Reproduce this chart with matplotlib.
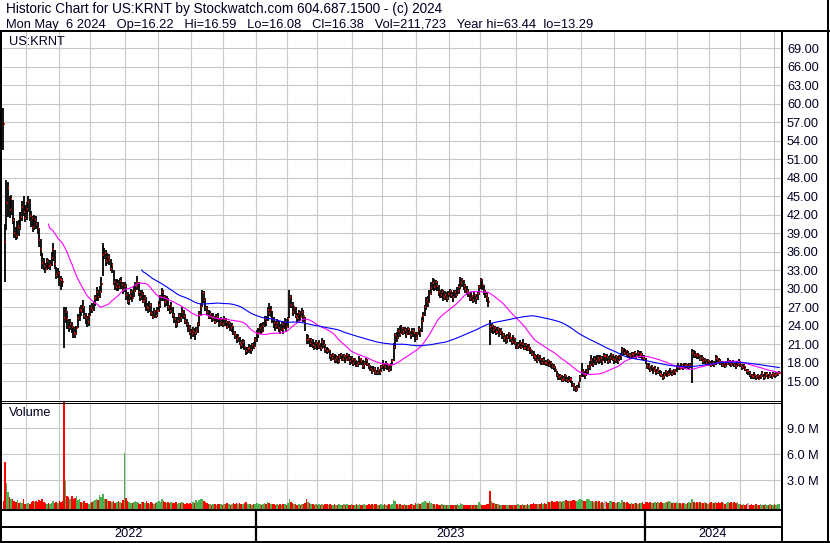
import numpy as np
import pandas as pd
import matplotlib
matplotlib.use("Agg")
import matplotlib.pyplot as plt

plt.rcParams["font.family"] = ["Liberation Sans", "DejaVu Sans"]

# US:KRNT daily bars, May 2022 - May 6 2024
close = [
    56.7, 37.6, 43.9, 46.4, 42.7, 44.5, 41.1, 39.0, 38.5, 40.2,
    39.8, 41.6, 43.2, 42.5, 41.4, 43.0, 44.0, 41.8, 41.4, 40.0,
    41.2, 40.5, 39.8, 37.9, 36.4, 34.2, 33.6, 33.2, 34.5, 33.6,
    33.8, 35.0, 36.5, 34.0, 32.2, 32.6, 31.5, 31.4, 31.0, 25.2,
    26.2, 25.0, 23.8, 24.2, 23.8, 22.8, 22.6, 23.6, 25.2, 26.5,
    26.4, 27.0, 25.6, 25.2, 24.5, 25.5, 26.8, 26.5, 27.6, 28.4,
    29.4, 28.6, 29.5, 30.8, 35.4, 35.8, 34.4, 35.2, 34.6, 33.2,
    33.8, 31.0, 30.3, 30.8, 30.2, 31.2, 30.6, 29.8, 30.5, 29.0,
    28.0, 28.8, 29.5, 28.4, 29.6, 30.4, 31.0, 29.4, 28.6, 29.2,
    28.0, 28.4, 27.0, 26.8, 27.4, 26.0, 25.4, 26.2, 25.6, 26.4,
    27.4, 28.6, 29.4, 28.6, 27.8, 28.2, 27.0, 26.4, 27.2, 25.7,
    25.0, 24.2, 24.8, 25.6, 25.2, 26.2, 25.5, 24.8, 24.3, 23.6,
    23.0, 22.6, 23.2, 22.8, 23.2, 24.2, 25.8, 27.0, 29.3, 28.2,
    26.8, 26.2, 25.4, 25.8, 25.2, 25.4, 24.6, 25.4, 25.0, 24.4,
    25.0, 24.2, 25.0, 24.6, 23.8, 24.4, 23.6, 24.0, 22.8, 22.4,
    21.8, 22.2, 21.2, 20.8, 21.4, 20.5, 19.8, 20.2, 20.4, 20.0,
    20.9, 20.6, 21.6, 22.6, 22.8, 23.6, 23.0, 24.0, 25.0, 24.6,
    26.5, 26.0, 26.6, 25.0, 24.4, 24.0, 24.4, 23.6, 23.2, 24.2,
    23.4, 24.6, 23.8, 25.0, 28.6, 27.4, 26.2, 26.8, 25.6, 25.2,
    26.0, 25.4, 26.2, 25.6, 24.6, 21.6, 21.8, 21.2, 21.6, 20.8,
    20.6, 21.2, 20.5, 21.0, 20.4, 21.4, 20.9, 20.2, 19.8, 20.0,
    19.0, 18.7, 19.2, 18.4, 18.8, 18.2, 18.9, 19.3, 18.6, 19.0,
    18.4, 19.2, 18.8, 18.2, 18.6, 17.9, 18.4, 17.6, 17.9, 18.6,
    18.2, 17.4, 17.8, 18.4, 17.8, 17.4, 17.0, 16.6, 17.0, 16.4,
    16.3, 16.8, 16.4, 17.2, 17.6, 17.2, 17.8, 17.4, 16.8, 17.6,
    18.2, 20.6, 22.4, 22.0, 23.2, 22.6, 23.6, 23.0, 23.3, 22.6,
    23.4, 23.0, 22.4, 23.2, 22.8, 22.0, 22.6, 23.4, 22.8, 24.8,
    25.6, 27.0, 28.1, 27.6, 29.2, 30.1, 30.9, 30.2, 31.0, 30.4,
    29.4, 29.0, 29.4, 28.6, 29.0, 28.4, 29.2, 29.6, 29.0, 28.6,
    29.4, 29.0, 29.6, 30.2, 30.9, 31.4, 30.4, 30.0, 29.6, 29.2,
    28.5, 28.8, 28.2, 29.0, 28.4, 29.2, 30.2, 31.4, 30.6, 29.6,
    29.0, 28.4, 27.8, 23.8, 24.0, 23.3, 23.6, 23.0, 23.4, 22.8,
    23.2, 22.4, 22.0, 21.6, 22.2, 22.6, 22.0, 21.4, 22.0, 21.2,
    20.6, 20.9, 21.2, 20.6, 21.0, 20.4, 20.8, 20.2, 20.5, 20.0,
    19.4, 19.0, 18.9, 18.4, 19.0, 18.6, 17.9, 18.4, 18.0, 17.9,
    18.2, 17.6, 17.9, 17.4, 17.2, 16.8, 16.0, 15.6, 15.8, 15.2,
    15.4, 15.8, 15.2, 15.0, 15.4, 15.1, 14.4, 13.9, 13.6, 14.0,
    14.6, 15.6, 16.6, 16.2, 16.0, 16.6, 17.2, 17.6, 18.4, 17.8,
    18.6, 18.2, 18.8, 18.4, 18.7, 18.2, 19.0, 19.0, 18.9, 18.3,
    18.8, 19.2, 18.6, 18.4, 18.9, 18.3, 18.8, 19.0, 20.0, 19.6,
    19.8, 19.4, 19.3, 19.0, 19.4, 19.2, 19.5, 19.0, 19.6, 19.2,
    19.4, 18.8, 18.6, 18.2, 17.4, 17.2, 16.8, 17.2, 16.6, 16.9,
    16.4, 16.8, 16.2, 16.0, 15.6, 16.0, 16.4, 16.0, 16.2, 16.6,
    16.2, 16.8, 16.4, 17.2, 17.4, 17.0, 17.6, 17.2, 17.4, 17.6,
    17.3, 17.6, 17.5, 19.6, 19.2, 19.4, 19.0, 19.2, 18.6, 18.8,
    18.2, 18.4, 18.0, 18.2, 17.8, 17.6, 18.0, 17.6, 18.8, 18.6,
    18.2, 18.0, 17.6, 17.9, 17.4, 17.8, 18.2, 17.9, 17.6, 18.0,
    17.6, 17.4, 17.8, 18.0, 17.6, 17.2, 17.4, 16.9, 16.6, 16.6,
    16.0, 15.8, 15.6, 16.0, 15.6, 15.8, 15.4, 15.8, 16.2, 15.6,
    15.9, 16.1, 15.7, 16.0, 15.8, 16.2, 15.9, 16.1, 16.2, 16.38,
]

high = [
    59.3, 40.5, 47.6, 47.3, 45.0, 45.2, 44.4, 41.5, 40.0, 41.0,
    41.2, 42.5, 44.2, 45.0, 43.5, 44.0, 45.0, 44.5, 42.6, 41.8,
    42.0, 41.8, 40.8, 39.9, 38.0, 35.8, 35.0, 34.2, 35.0, 34.8,
    34.6, 36.0, 37.4, 36.3, 33.5, 33.4, 32.8, 32.0, 31.8, 27.0,
    27.0, 26.4, 25.0, 25.0, 24.6, 24.0, 23.8, 24.0, 25.8, 27.0,
    27.4, 28.1, 27.2, 26.0, 25.6, 26.0, 27.3, 27.6, 28.0, 29.0,
    30.2, 29.8, 30.5, 31.9, 37.4, 36.6, 36.2, 35.8, 35.6, 34.8,
    34.2, 33.0, 31.6, 31.6, 31.4, 31.8, 31.9, 31.0, 31.0, 30.8,
    29.4, 29.2, 30.0, 29.8, 30.4, 31.0, 32.0, 31.0, 29.8, 29.8,
    29.4, 29.0, 28.6, 27.6, 28.0, 27.6, 26.4, 26.8, 26.6, 27.0,
    28.0, 29.0, 30.1, 29.8, 29.0, 28.8, 28.4, 27.4, 27.8, 27.0,
    26.0, 25.4, 25.4, 26.0, 26.0, 27.0, 26.6, 25.8, 25.0, 24.6,
    24.1, 23.4, 23.8, 23.6, 23.8, 24.6, 26.4, 27.6, 29.8, 29.6,
    28.4, 27.2, 26.6, 26.4, 26.0, 26.0, 25.6, 25.8, 26.0, 25.2,
    25.4, 25.0, 25.6, 25.2, 24.8, 24.8, 24.6, 24.4, 24.0, 23.2,
    22.6, 22.6, 22.2, 21.6, 21.8, 21.6, 20.6, 20.6, 21.0, 20.8,
    21.2, 21.4, 22.2, 23.3, 23.6, 24.2, 24.4, 24.6, 25.6, 25.6,
    27.0, 27.6, 27.2, 26.4, 25.4, 24.8, 25.0, 24.8, 24.2, 24.6,
    24.6, 25.2, 25.0, 25.4, 29.8, 29.0, 27.8, 27.2, 27.0, 26.0,
    26.6, 26.4, 26.8, 26.6, 25.4, 22.6, 22.4, 22.0, 22.0, 21.8,
    21.4, 21.6, 21.4, 21.6, 21.2, 22.0, 21.6, 21.0, 20.6, 20.4,
    20.0, 19.4, 19.5, 19.4, 19.2, 19.0, 19.4, 19.6, 19.4, 19.4,
    19.2, 19.6, 19.4, 19.0, 19.0, 18.7, 18.8, 18.4, 18.3, 19.0,
    18.8, 18.4, 18.2, 18.8, 18.6, 18.0, 17.6, 17.4, 17.4, 17.2,
    16.8, 17.2, 17.0, 17.6, 18.4, 17.8, 18.2, 18.0, 17.6, 18.0,
    18.6, 21.2, 22.8, 23.0, 23.6, 24.0, 24.1, 23.8, 23.8, 23.6,
    23.8, 23.6, 23.2, 23.6, 23.6, 23.0, 23.0, 24.0, 23.6, 25.4,
    26.2, 27.4, 28.6, 28.8, 29.8, 31.0, 31.7, 31.6, 31.4, 31.2,
    30.6, 29.8, 30.0, 29.8, 29.6, 29.4, 29.6, 30.0, 29.8, 29.4,
    29.8, 29.8, 30.2, 30.8, 31.9, 31.8, 31.4, 30.8, 30.4, 30.0,
    29.5, 29.4, 29.0, 29.4, 29.2, 29.6, 30.6, 31.7, 31.6, 30.6,
    29.8, 29.4, 28.6, 24.9, 24.4, 24.1, 24.0, 23.8, 23.8, 23.6,
    23.6, 23.2, 22.8, 22.4, 22.6, 23.0, 22.8, 22.2, 22.4, 22.0,
    21.4, 21.4, 21.6, 21.4, 21.8, 21.2, 21.2, 21.0, 21.0, 20.6,
    20.0, 19.8, 19.4, 19.2, 19.4, 19.2, 18.8, 18.8, 18.9, 18.4,
    18.6, 18.4, 18.2, 18.0, 17.8, 17.4, 16.6, 16.3, 16.2, 16.0,
    15.8, 16.2, 15.9, 15.6, 15.8, 15.6, 15.0, 14.6, 14.2, 14.4,
    14.8, 16.0, 17.9, 17.0, 16.6, 17.0, 17.6, 18.2, 19.2, 18.8,
    19.0, 19.0, 19.2, 19.2, 19.2, 19.0, 19.5, 19.4, 19.4, 19.0,
    19.2, 19.5, 19.4, 19.0, 19.3, 19.0, 19.2, 19.6, 20.5, 20.4,
    20.2, 20.0, 19.8, 19.6, 19.7, 19.7, 19.8, 19.6, 20.0, 19.8,
    19.8, 19.6, 19.2, 18.8, 18.0, 17.9, 17.4, 17.6, 17.2, 17.4,
    17.0, 17.2, 16.8, 16.6, 16.2, 16.4, 16.8, 16.6, 16.8, 17.1,
    16.8, 17.0, 17.0, 17.6, 17.9, 17.6, 17.9, 17.8, 17.9, 17.9,
    17.8, 18.0, 18.0, 20.2, 20.0, 19.8, 19.6, 19.6, 19.2, 19.2,
    18.9, 18.8, 18.6, 18.6, 18.4, 18.2, 18.4, 18.2, 19.2, 19.0,
    18.8, 18.6, 18.2, 18.2, 18.0, 18.2, 18.7, 18.4, 18.2, 18.4,
    18.0, 18.0, 18.2, 18.6, 18.2, 17.8, 17.8, 17.5, 17.0, 16.9,
    16.6, 16.2, 16.2, 16.4, 16.0, 16.2, 16.0, 16.2, 16.6, 16.2,
    16.4, 16.5, 16.2, 16.4, 16.2, 16.5, 16.3, 16.5, 16.4, 16.59,
]

low = [
    52.5, 31.0, 39.5, 41.7, 41.5, 42.0, 40.5, 38.2, 37.9, 38.0,
    38.6, 39.5, 41.0, 41.8, 40.8, 41.2, 42.5, 41.0, 40.0, 39.2,
    39.5, 39.6, 38.8, 36.7, 35.3, 33.2, 33.0, 32.6, 33.0, 33.2,
    33.0, 33.6, 34.5, 33.2, 31.5, 31.8, 30.5, 29.8, 30.2, 20.4,
    24.4, 23.5, 23.0, 23.3, 22.8, 22.0, 22.0, 22.5, 23.6, 24.8,
    25.6, 26.0, 25.0, 24.2, 23.8, 24.0, 25.5, 26.0, 26.4, 27.2,
    28.0, 28.0, 28.4, 29.3, 32.0, 34.8, 33.6, 34.0, 33.8, 32.8,
    32.6, 30.6, 29.8, 29.6, 29.6, 30.0, 30.0, 29.2, 29.5, 28.2,
    27.5, 27.4, 28.2, 27.8, 28.6, 29.4, 29.8, 28.8, 28.0, 28.2,
    27.6, 27.0, 26.4, 26.0, 26.2, 25.6, 25.0, 25.2, 25.2, 25.4,
    26.2, 26.8, 28.0, 28.0, 27.0, 27.2, 26.4, 25.8, 26.0, 25.2,
    24.4, 23.6, 23.8, 24.4, 24.6, 25.0, 25.0, 24.2, 23.8, 23.0,
    22.4, 21.8, 22.2, 21.6, 22.4, 22.8, 24.0, 25.6, 27.0, 27.6,
    26.4, 25.7, 25.0, 25.0, 24.6, 24.8, 24.2, 24.4, 24.6, 23.8,
    24.0, 23.8, 24.0, 24.0, 23.4, 23.6, 23.2, 23.0, 22.4, 21.8,
    21.2, 21.4, 20.8, 20.2, 20.4, 20.0, 19.2, 19.4, 19.6, 19.4,
    19.8, 20.2, 20.6, 21.4, 22.0, 22.6, 22.6, 23.0, 23.8, 24.0,
    24.8, 25.6, 25.4, 24.4, 23.6, 23.2, 23.4, 23.0, 22.6, 23.2,
    22.6, 23.4, 23.0, 23.6, 25.2, 26.8, 25.6, 25.8, 25.2, 24.6,
    24.8, 24.8, 25.2, 24.6, 23.2, 21.0, 21.0, 20.6, 20.6, 20.4,
    20.0, 20.2, 20.0, 20.2, 19.8, 20.2, 20.4, 19.6, 19.4, 19.5,
    18.6, 18.2, 18.4, 18.0, 18.0, 17.8, 18.0, 18.6, 18.2, 18.2,
    18.0, 18.2, 18.2, 17.6, 17.8, 17.4, 17.6, 17.2, 17.3, 17.6,
    17.6, 17.0, 17.0, 17.6, 17.4, 16.9, 16.6, 16.2, 16.4, 16.0,
    15.9, 16.0, 16.0, 16.4, 17.0, 16.6, 17.0, 16.8, 16.4, 16.6,
    17.6, 18.2, 20.2, 21.4, 21.8, 22.2, 22.6, 22.4, 22.6, 22.0,
    22.4, 22.4, 21.8, 22.2, 22.2, 21.4, 21.6, 22.4, 22.2, 23.0,
    24.6, 25.6, 26.6, 27.0, 27.6, 29.0, 29.8, 29.6, 29.8, 29.6,
    28.8, 28.4, 28.4, 28.0, 28.2, 27.8, 28.2, 28.6, 28.4, 27.8,
    28.4, 28.4, 28.8, 29.2, 30.0, 30.2, 29.8, 29.3, 29.0, 28.6,
    28.0, 28.0, 27.6, 27.8, 27.5, 28.2, 29.0, 30.0, 29.8, 29.0,
    28.4, 27.8, 27.0, 20.8, 22.8, 22.6, 22.8, 22.4, 22.6, 22.2,
    22.4, 21.8, 21.4, 21.0, 21.2, 21.8, 21.4, 20.8, 21.0, 20.8,
    20.2, 20.2, 20.4, 20.2, 20.4, 20.0, 20.0, 19.8, 19.8, 19.4,
    19.0, 18.6, 18.2, 18.0, 18.2, 18.0, 17.6, 17.6, 17.6, 17.4,
    17.4, 17.2, 17.1, 17.0, 16.8, 16.4, 15.6, 15.2, 15.2, 14.9,
    14.8, 15.0, 14.8, 14.7, 14.8, 14.7, 14.0, 13.4, 13.2, 13.3,
    13.8, 14.8, 15.6, 15.6, 15.4, 15.8, 16.2, 16.8, 17.4, 17.2,
    17.6, 17.6, 18.0, 17.8, 18.0, 17.6, 18.2, 18.0, 18.2, 17.8,
    18.0, 18.4, 18.2, 17.8, 18.0, 17.8, 18.2, 18.4, 19.0, 19.2,
    19.2, 18.9, 18.8, 18.6, 18.8, 18.6, 18.8, 18.6, 19.0, 18.8,
    18.8, 18.4, 18.2, 17.8, 17.0, 16.8, 16.4, 16.6, 16.2, 16.4,
    16.0, 16.2, 15.8, 15.6, 15.2, 15.4, 15.8, 15.6, 15.8, 16.0,
    15.8, 16.0, 16.0, 16.4, 16.8, 16.8, 17.0, 16.8, 17.0, 17.0,
    16.9, 17.0, 17.1, 14.7, 18.8, 18.8, 18.6, 18.6, 18.2, 18.2,
    17.8, 17.8, 17.6, 17.6, 17.4, 17.2, 17.4, 17.2, 17.6, 18.0,
    17.8, 17.6, 17.2, 17.2, 17.1, 17.2, 17.6, 17.4, 17.2, 17.4,
    17.2, 17.0, 17.2, 17.4, 17.2, 16.8, 16.9, 16.6, 16.2, 16.0,
    15.6, 15.4, 15.3, 15.4, 15.2, 15.4, 15.2, 15.3, 15.6, 15.2,
    15.4, 15.6, 15.4, 15.5, 15.4, 15.6, 15.5, 15.7, 15.8, 16.08,
]

# volume in millions of shares
volume = [
    0.6, 5.1, 2.7, 1.6, 1.1, 0.8, 0.9, 0.6, 0.5, 0.7,
    0.4, 0.5, 0.4, 0.8, 0.3, 0.3, 0.4, 0.3, 0.5, 0.6,
    0.5, 0.6, 0.5, 0.7, 0.6, 0.9, 0.5, 0.4, 0.3, 0.4,
    0.3, 0.4, 0.6, 0.4, 0.5, 0.4, 0.6, 0.5, 0.6, 14.0,
    2.9, 1.2, 1.1, 0.9, 1.2, 0.8, 1.0, 1.2, 0.7, 0.9,
    0.5, 0.4, 0.6, 0.4, 0.4, 0.3, 0.4, 0.5, 0.6, 0.7,
    0.8, 0.7, 1.3, 1.1, 1.4, 0.9, 0.8, 0.7, 0.6, 0.6,
    0.5, 0.6, 0.4, 0.5, 0.6, 0.5, 0.4, 0.7, 6.2, 1.0,
    0.6, 0.5, 0.4, 0.4, 0.5, 0.6, 0.5, 0.4, 0.3, 0.5,
    0.5, 0.4, 0.6, 0.4, 0.3, 0.5, 0.4, 0.3, 0.4, 0.5,
    0.6, 0.5, 0.8, 0.6, 0.5, 0.4, 0.5, 0.4, 0.5, 0.4,
    0.4, 0.5, 0.3, 0.4, 0.4, 0.5, 0.4, 0.3, 0.4, 0.3,
    0.4, 0.3, 0.5, 0.4, 0.7, 0.5, 0.7, 0.8, 0.9, 0.6,
    0.5, 0.4, 0.3, 0.3, 0.2, 0.3, 0.3, 0.2, 0.3, 0.3,
    0.3, 0.2, 0.3, 0.3, 0.4, 0.3, 0.2, 0.3, 0.4, 0.3,
    0.4, 0.3, 0.4, 0.3, 0.3, 0.4, 0.5, 0.3, 0.3, 0.3,
    0.2, 0.3, 0.3, 0.4, 0.3, 0.3, 0.2, 0.3, 0.4, 0.3,
    0.5, 0.4, 0.3, 0.3, 0.3, 0.2, 0.3, 0.2, 0.3, 0.2,
    0.3, 0.3, 0.2, 0.4, 0.8, 0.5, 0.4, 0.3, 0.3, 0.2,
    0.3, 0.2, 0.3, 0.3, 0.4, 0.9, 0.5, 0.4, 0.3, 0.3,
    0.2, 0.3, 0.2, 0.3, 0.2, 0.3, 0.2, 0.3, 0.3, 0.2,
    0.3, 0.2, 0.2, 0.3, 0.2, 0.2, 0.3, 0.2, 0.2, 0.3,
    0.2, 0.3, 0.2, 0.2, 0.3, 0.2, 0.2, 0.3, 0.2, 0.3,
    0.2, 0.2, 0.3, 0.2, 0.2, 0.3, 0.2, 0.3, 0.2, 0.3,
    0.3, 0.2, 0.2, 0.3, 0.2, 0.3, 0.2, 0.2, 0.3, 0.2,
    0.3, 0.7, 0.6, 0.3, 0.2, 0.3, 0.2, 0.2, 0.3, 0.2,
    0.2, 0.2, 0.3, 0.3, 0.2, 0.4, 0.3, 0.4, 0.3, 0.4,
    0.5, 0.6, 0.5, 0.4, 0.6, 0.4, 0.3, 0.3, 0.2, 0.3,
    0.2, 0.2, 0.3, 0.2, 0.2, 0.1, 0.2, 0.2, 0.1, 0.2,
    0.2, 0.2, 0.3, 0.2, 0.4, 0.3, 0.2, 0.2, 0.2, 0.2,
    0.2, 0.2, 0.1, 0.2, 0.2, 0.2, 0.5, 0.3, 0.2, 0.2,
    0.2, 0.3, 0.3, 1.8, 0.6, 0.4, 0.4, 0.3, 0.3, 0.2,
    0.2, 0.1, 0.1, 0.2, 0.1, 0.1, 0.2, 0.1, 0.1, 0.2,
    0.2, 0.3, 0.2, 0.2, 0.3, 0.2, 0.2, 0.3, 0.2, 0.3,
    0.3, 0.4, 0.3, 0.3, 0.3, 0.3, 0.4, 0.3, 0.4, 0.3,
    0.6, 0.5, 0.5, 0.6, 0.5, 0.5, 0.6, 0.5, 0.6, 0.5,
    0.6, 0.6, 0.7, 0.6, 0.6, 0.6, 0.7, 0.7, 0.6, 0.6,
    0.7, 0.8, 0.7, 0.6, 0.6, 0.8, 0.9, 0.7, 0.6, 0.6,
    0.5, 0.6, 0.5, 0.6, 0.4, 0.5, 0.4, 0.6, 0.5, 0.4,
    0.6, 0.6, 0.5, 0.5, 0.4, 0.5, 0.5, 0.4, 0.7, 0.5,
    0.4, 0.5, 0.4, 0.3, 0.4, 0.3, 0.4, 0.4, 0.3, 0.4,
    0.4, 0.5, 0.3, 0.5, 0.5, 0.4, 0.5, 0.4, 0.4, 0.5,
    0.4, 0.5, 0.4, 0.5, 0.4, 0.4, 0.5, 0.5, 0.6, 0.5,
    0.4, 0.5, 0.4, 0.5, 0.4, 0.4, 0.3, 0.4, 0.4, 0.3,
    0.4, 0.5, 0.4, 0.9, 0.5, 0.4, 0.5, 0.4, 0.5, 0.4,
    0.4, 0.5, 0.4, 0.3, 0.4, 0.5, 0.4, 0.4, 0.5, 0.4,
    0.5, 0.4, 0.5, 0.4, 0.3, 0.4, 0.5, 0.4, 0.5, 0.4,
    0.5, 0.4, 0.5, 0.3, 0.3, 0.2, 0.3, 0.2, 0.3, 0.4,
    0.2, 0.3, 0.2, 0.2, 0.3, 0.2, 0.2, 0.3, 0.2, 0.2,
    0.3, 0.2, 0.2, 0.3, 0.2, 0.2, 0.3, 0.2, 0.3, 0.21,
]

# NYSE holidays in the range, so the bars fall on trading days
holidays = [
    "2022-05-30", "2022-06-20", "2022-07-04", "2022-09-05", "2022-11-24",
    "2022-12-26", "2023-01-02", "2023-01-16", "2023-02-20", "2023-04-07",
    "2023-05-29", "2023-06-19", "2023-07-04", "2023-09-04", "2023-11-23",
    "2023-12-25", "2024-01-01", "2024-01-15", "2024-02-19", "2024-03-29",
]

header1 = "Historic Chart for US:KRNT by Stockwatch.com 604.687.1500 - (c) 2024"
header2 = ("Mon May  6 2024   Op=16.22   Hi=16.59   Lo=16.08   Cl=16.38   "
           "Vol=211,723   Year hi=63.44  lo=13.29")

price_ticks = np.arange(15, 70, 3)
vol_ticks = [3, 6, 9]

n = len(close)
dates = pd.bdate_range(end="2024-05-06", periods=n, freq="C", holidays=holidays)
idx = np.arange(n)
ma_fast = pd.Series(close).rolling(30).mean()
ma_slow = pd.Series(close).rolling(90).mean()

ym = np.asarray(dates.year * 12 + dates.month)
month_pos = np.flatnonzero(np.diff(ym) != 0) + 0.5
yr = np.asarray(dates.year)
year_pos = np.flatnonzero(np.diff(yr) != 0) + 0.5

RED, GREEN, GRAY = "#ff0000", "#4caf50", "#b4b4b4"
GRID = "#c8c8c8"
TXT = "#000022"
FS = 9.2

W, H = 830, 543
fig = plt.figure(figsize=(W / 100, H / 100), dpi=100, facecolor="white")


def box(x0, y0, x1, y1):
    return [x0 / W, 1 - y1 / H, (x1 - x0) / W, (y1 - y0) / H]


xlim = (-0.84, n - 1 + 1.1)

# price panel
ax = fig.add_axes(box(2, 31, 781, 400))
ax.set_xlim(*xlim)
ax.set_ylim(11.92, 71.81)
ax.set_xticks(month_pos)
ax.set_yticks(price_ticks)
ax.set_yticklabels([f"{v:.2f}" for v in price_ticks])
ax.grid(True, color=GRID, lw=0.8)
ax.set_axisbelow(True)
ax.yaxis.tick_right()
ax.tick_params(axis="both", length=0, labelbottom=False)
ax.tick_params(axis="y", pad=4.3, labelsize=FS, labelcolor=TXT)
for s in ax.spines.values():
    s.set_visible(False)

ax.vlines(idx, low, high, colors="black", lw=1.3)
ax.hlines(close, idx + 0.15, idx + 0.8, colors=RED, lw=1.3)
ax.plot(idx, ma_fast, color="#ff00ff", lw=0.8)
ax.plot(idx, ma_slow, color="#0000ff", lw=0.8)

# volume panel
vlo = -0.31
axv = fig.add_axes(box(2, 402, 781, 509))
axv.set_xlim(*xlim)
axv.set_ylim(vlo, 12.03)
axv.set_xticks(month_pos)
axv.set_yticks(vol_ticks)
axv.set_yticklabels([f"{v:.1f} M" for v in vol_ticks])
axv.grid(True, color=GRID, lw=0.8)
axv.set_axisbelow(True)
axv.yaxis.tick_right()
axv.tick_params(axis="both", length=0, labelbottom=False)
axv.tick_params(axis="y", pad=4.3, labelsize=FS, labelcolor=TXT)
for s in axv.spines.values():
    s.set_visible(False)

chg = np.diff(close, prepend=np.nan)
vcol = [GREEN if d > 0 else GRAY if d == 0 else RED for d in chg]
axv.bar(idx, np.array(volume) - vlo, bottom=vlo, width=1.0, color=vcol, lw=0)

# date strip
axd = fig.add_axes(box(2, 509, 781, 541))
axd.set_xlim(*xlim)
axd.set_ylim(32, 0)
axd.axis("off")
axd.vlines(year_pos, 0, 32, colors="black", lw=1.6)
edges = np.concatenate([[xlim[0]], year_pos, [xlim[1]]])
for a, b, y in zip(edges[:-1], edges[1:], yr[np.r_[0, year_pos.astype(int) + 1]]):
    axd.text((a + b) / 2, 25, str(y), ha="center", va="center", fontsize=FS, color=TXT)

# frame lines in pixel coordinates
ov = fig.add_axes([0, 0, 1, 1], zorder=10)
ov.set_xlim(0, W)
ov.set_ylim(H, 0)
ov.axis("off")
ov.patch.set_alpha(0)
frame = [
    ((0, 830), (30.5, 30.5), 2), ((1, 1), (30, 542), 2), ((828, 828), (0, 542), 2),
    ((781.5, 781.5), (30, 542), 2), ((0, 781), (400.5, 400.5), 1),
    ((0, 781), (402.5, 402.5), 1), ((0, 781), (509.5, 509.5), 2),
    ((0, 781), (526.5, 526.5), 2), ((0, 830), (541.5, 541.5), 2),
]
for xs, ys, w in frame:
    ov.plot(xs, ys, color="black", lw=w * 0.72, solid_capstyle="butt")

fig.text(6 / W, 1 - 12.7 / H, header1, fontsize=9.8, color=TXT, va="baseline")
fig.text(6 / W, 1 - 28 / H, header2, fontsize=9.3, color=TXT, va="baseline")
fig.text(9 / W, 1 - 42 / H, "US:KRNT", fontsize=FS, color=TXT, va="center")
fig.text(9 / W, 1 - 413 / H, "Volume", fontsize=FS, color=TXT, va="center")

fig.savefig("out.png", dpi=100)
